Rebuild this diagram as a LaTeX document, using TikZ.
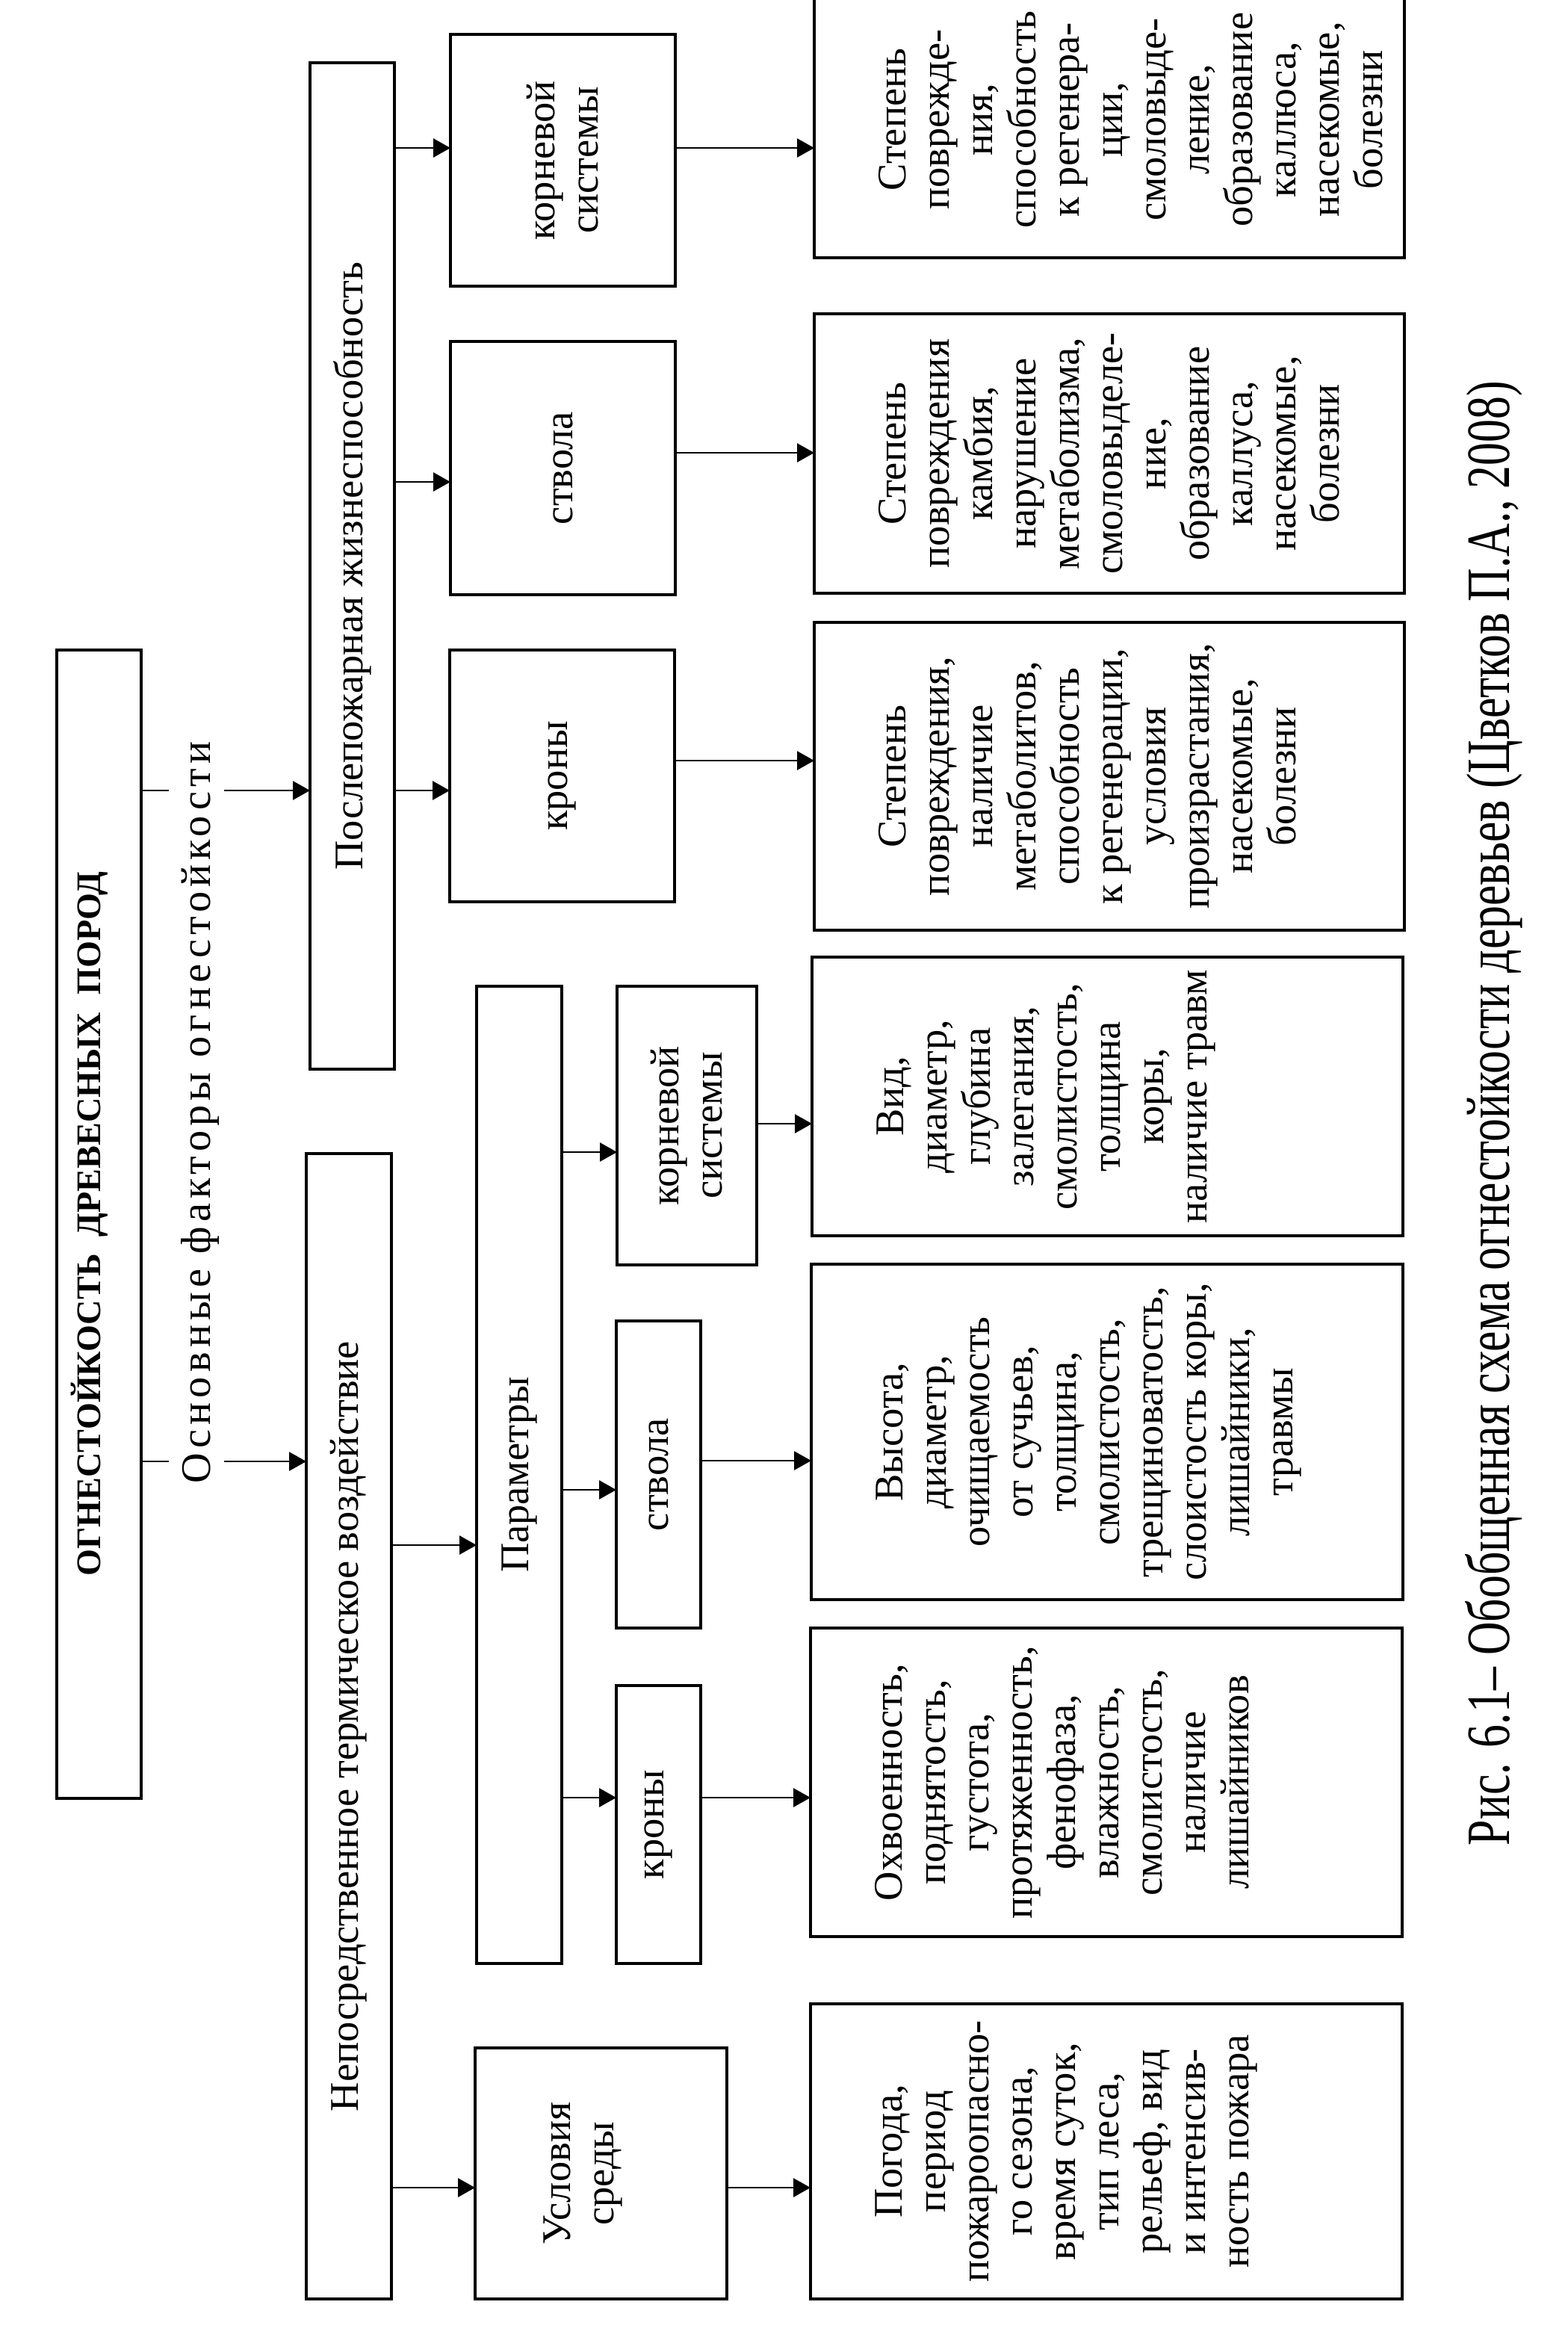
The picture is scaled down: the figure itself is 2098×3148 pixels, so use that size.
\documentclass[tikz,border=0pt]{standalone}
\usepackage{fontspec}
\setmainfont{Liberation Serif}
\usetikzlibrary{arrows.meta,fit}
\begin{document}
\begin{tikzpicture}[x=0.1mm,y=-0.1mm,
  box/.style={draw, line width=1.1pt, inner sep=0pt, outer sep=0pt},
  lbl/.style={rotate=90, align=center, inner sep=0pt, font=\fontsize{15.5}{16.5}\selectfont},
  toplbl/.style={lbl, anchor=north},
  conn/.style={line width=0.8pt},
  arr/.style={conn, -{Triangle[length=2.3mm,width=2.5mm]}}
]
\useasboundingbox (0,0) rectangle (2098,3148);
\fill[white] (0,0) rectangle (2098,3148);

% boxes
\node[box, fit={(76,870) (189,2407)}] (title) {};
\node[box, fit={(415,84) (528,1431)}] (post) {};
\node[box, fit={(410,1544) (524,3077)}] (direct) {};
\node[box, fit={(638,1320) (752,2628)}] (param) {};
\node[box, fit={(636,2741) (973,3077)}] (usl) {};
\node[box, fit={(826,1320) (1013,1693)}] (lkorn) {};
\node[box, fit={(825,1768) (938,2179)}] (lstv) {};
\node[box, fit={(825,2256) (938,2628)}] (lkron) {};
\node[box, fit={(603,46) (904,383)}] (pkorn) {};
\node[box, fit={(603,457) (904,796)}] (pstv) {};
\node[box, fit={(602,870) (903,1207)}] (pkron) {};
\node[box, fit={(1090,-25) (1880,345)}] (pkornL) {};
\node[box, fit={(1090,420) (1880,794)}] (pstvL) {};
\node[box, fit={(1090,833) (1880,1245)}] (pkronL) {};
\node[box, fit={(1087,1281) (1878,1654)}] (vidL) {};
\node[box, fit={(1086,1692) (1878,2141)}] (vysL) {};
\node[box, fit={(1085,2179) (1877,2592)}] (ohvL) {};
\node[box, fit={(1085,2682) (1877,3077)}] (pogL) {};

% texts
\node[lbl, font=\fontsize{15}{17}\selectfont\bfseries] (titleT) at (120,1638)
  {\resizebox{94.3mm}{!}{ОГНЕСТОЙКОСТЬ\ \ ДРЕВЕСНЫХ\ \ ПОРОД}};
\node[lbl, font=\fontsize{16}{17}\selectfont] (osnT) at (268,1489)
  {\addfontfeatures{LetterSpace=11}Основные факторы огнестойкости};
\node[lbl] (postT) at (post.center) {Послепожарная жизнеспособность};
\node[lbl] (directT) at (direct.center) {Непосредственное термическое воздействие};
\node[lbl] (paramT) at (param.center) {Параметры};
\node[toplbl] (uslT) at ([xshift=9.1mm]usl.west) {Условия\\среды};
\node[lbl] (lkornT) at (lkorn.center) {корневой\\системы};
\node[lbl] (lstvT) at (lstv.center) {ствола};
\node[lbl] (lkronT) at (lkron.center) {кроны};
\node[lbl] (pkornT) at (pkorn.center) {корневой\\системы};
\node[lbl] (pstvT) at (pstv.center) {ствола};
\node[lbl] (pkronT) at (pkron.center) {кроны};

\node[toplbl] (pkornLT) at ([xshift=8.6mm]pkornL.west)
  {Степень\\поврежде-\\ния,\\способность\\к регенера-\\ции,\\смоловыде-\\ление,\\образование\\каллюса,\\насекомые,\\болезни};
\node[toplbl] (pstvLT) at ([xshift=8.6mm]pstvL.west)
  {Степень\\повреждения\\камбия,\\нарушение\\метаболизма,\\смоловыделе-\\ние,\\образование\\каллуса,\\насекомые,\\болезни};
\node[toplbl] (pkronLT) at ([xshift=8.6mm]pkronL.west)
  {Степень\\повреждения,\\наличие\\метаболитов,\\способность\\к регенерации,\\условия\\произрастания,\\насекомые,\\болезни};
\node[toplbl] (vidLT) at ([xshift=8.6mm]vidL.west)
  {Вид,\\диаметр,\\глубина\\залегания,\\смолистость,\\толщина\\коры,\\наличие травм};
\node[toplbl] (vysLT) at ([xshift=8.6mm]vysL.west)
  {Высота,\\диаметр,\\очищаемость\\от сучьев,\\толщина,\\смолистость,\\трещиноватость,\\слоистость коры,\\лишайники,\\травмы};
\node[toplbl] (ohvLT) at ([xshift=8.6mm]ohvL.west)
  {Охвоенность,\\поднятость,\\густота,\\протяженность,\\фенофаза,\\влажность,\\смолистость,\\наличие\\лишайников};
\node[toplbl] (pogLT) at ([xshift=8.6mm]pogL.west)
  {Погода,\\период\\пожароопасно-\\го сезона,\\время суток,\\тип леса,\\рельеф, вид\\и интенсив-\\ность пожара};

\node[lbl] (caption) at (2000,1490)
  {\resizebox{196mm}{5.9mm}{Рис. 6.1– Обобщенная схема огнестойкости деревьев (Цветков П.А., 2008)}};

% connectors
\coordinate (g1a) at (226,1058);
\coordinate (g1b) at (300,1058);
\coordinate (g2a) at (226,1956);
\coordinate (g2b) at (300,1956);
\draw[conn] (title.east |- g1a) -- (g1a);
\draw[arr] (g1b) -- (post.west |- g1b);
\draw[conn] (title.east |- g2a) -- (g2a);
\draw[arr] (g2b) -- (direct.west |- g2b);

\draw[arr] (post.east |- 0,198) -- (pkorn.west |- 0,198);
\draw[arr] (post.east |- 0,645) -- (pstv.west |- 0,645);
\draw[arr] (post.east |- 0,1058) -- (pkron.west |- 0,1058);
\draw[arr] (pkorn.east |- 0,198) -- (pkornL.west |- 0,198);
\draw[arr] (pstv.east |- 0,606) -- (pstvL.west |- 0,606);
\draw[arr] (pkron.east |- 0,1018) -- (pkronL.west |- 0,1018);

\draw[arr] (direct.east |- 0,2068) -- (param.west |- 0,2068);
\draw[arr] (direct.east |- 0,2928) -- (usl.west |- 0,2928);
\draw[arr] (param.east |- 0,1542) -- (lkorn.west |- 0,1542);
\draw[arr] (param.east |- 0,1994) -- (lstv.west |- 0,1994);
\draw[arr] (param.east |- 0,2406) -- (lkron.west |- 0,2406);
\draw[arr] (lkorn.east |- 0,1504) -- (vidL.west |- 0,1504);
\draw[arr] (lstv.east |- 0,1955) -- (vysL.west |- 0,1955);
\draw[arr] (lkron.east |- 0,2406) -- (ohvL.west |- 0,2406);
\draw[arr] (usl.east |- 0,2928) -- (pogL.west |- 0,2928);
\end{tikzpicture}
\end{document}
